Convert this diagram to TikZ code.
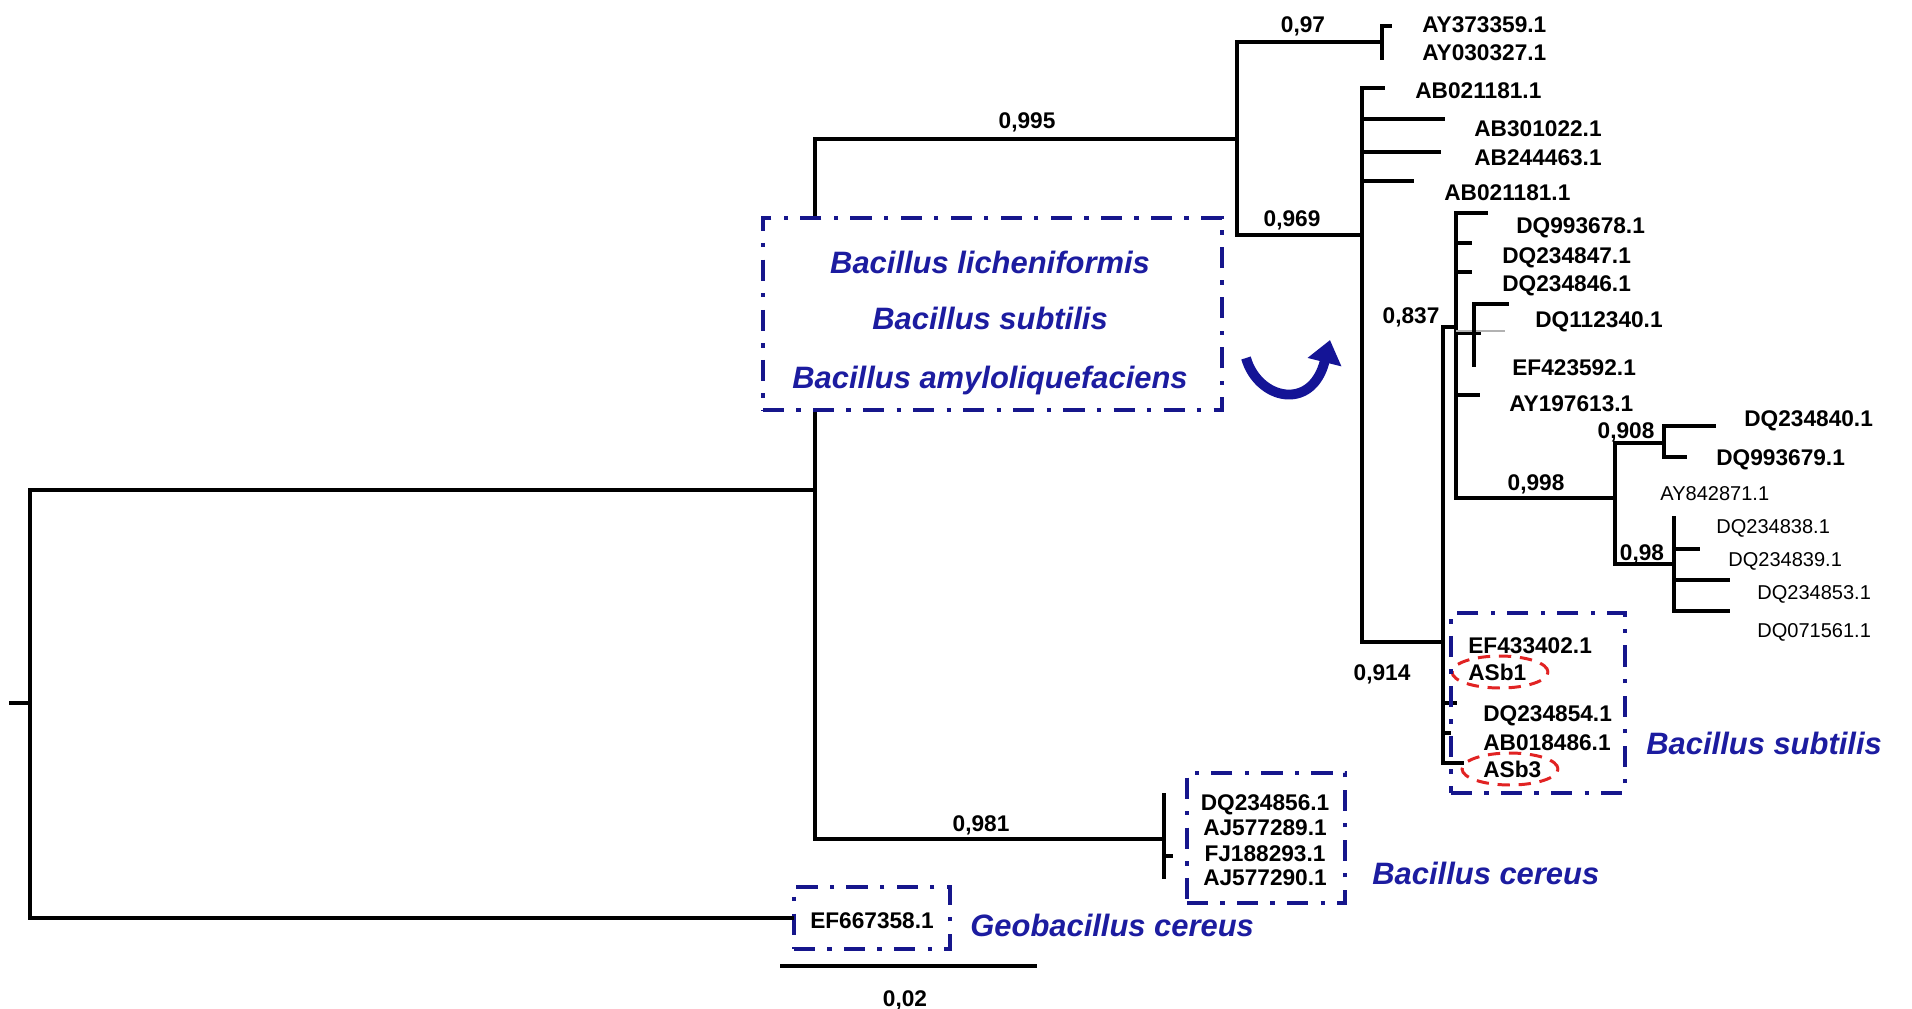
\documentclass[tikz,border=0pt]{standalone}
\usepackage{fontspec}
\setmainfont{Liberation Sans}
\usetikzlibrary{arrows.meta,fit,shapes.geometric}
\definecolor{boxblue}{RGB}{22,22,140}
\definecolor{txtblue}{RGB}{28,28,160}
\definecolor{arrblue}{RGB}{20,20,150}
\definecolor{ellred}{RGB}{225,35,35}
\tikzset{
  tree/.style={line width=2.2pt, line cap=rect},
  thintree/.style={line width=1.9pt, line cap=rect},
  lab/.style={anchor=west, inner sep=0pt, text height=9.24pt, text depth=0pt, font=\fontsize{12.9}{15}\selectfont\bfseries},
  labsm/.style={anchor=west, inner sep=0pt, text height=8.16pt, text depth=0pt, font=\fontsize{11.4}{14}\selectfont},
  labc/.style={anchor=center, inner sep=0pt, text height=9.24pt, text depth=0pt, font=\fontsize{12.9}{15}\selectfont\bfseries},
  bootval/.style={anchor=center, inner sep=0pt, text height=9.24pt, text depth=0pt, font=\fontsize{12.9}{15}\selectfont\bfseries},
  ital/.style={inner sep=0pt, text height=12.6pt, text depth=0pt, text=txtblue, font=\fontsize{17.6}{20}\selectfont\bfseries\itshape},
  bluebox/.style={draw=boxblue, line width=2.3pt, dash pattern=on 12pt off 7pt on 2.5pt off 7pt, inner sep=0pt},
  redell/.style={ellipse, draw=ellred, line width=1.7pt, dash pattern=on 7pt off 5pt, inner sep=0pt, minimum width=54.6pt, minimum height=18.2pt}
}
\begin{document}
\begin{tikzpicture}[x=0.02cm,y=-0.02cm]
\useasboundingbox (0,0) rectangle (1912,1008);
% ---------- coordinates ----------
\coordinate (rootstub) at (11,703);
\coordinate (root) at (30,703);
\coordinate (rt) at (30,490);
\coordinate (rb) at (30,918);
\coordinate (A) at (815,490);
\coordinate (At) at (815,139);
\coordinate (Ab) at (815,839);
\coordinate (B) at (1237,139);
\coordinate (Bt) at (1237,42);
\coordinate (Bb) at (1237,235);
\coordinate (AYt) at (1382,42);
\coordinate (AYtop) at (1382,26);
\coordinate (AYbot) at (1382,58);
\coordinate (C) at (1362,235);
\coordinate (Ct) at (1362,88);
\coordinate (Cb) at (1362,642);
\coordinate (D) at (1443,642);
\coordinate (Dt) at (1443,327);
\coordinate (Db) at (1443,763);
\coordinate (E) at (1456,327);
\coordinate (Et) at (1456,213);
\coordinate (Eb) at (1456,498);
\coordinate (F) at (1474,333);
\coordinate (Ft) at (1474,304);
\coordinate (Fb) at (1474,365);
\coordinate (G) at (1615,498);
\coordinate (Gt) at (1615,443);
\coordinate (Gb) at (1615,564);
\coordinate (H) at (1664,443);
\coordinate (Ht) at (1664,426);
\coordinate (Hb) at (1664,457);
\coordinate (I) at (1674,564);
\coordinate (It) at (1674,518);
\coordinate (Ib) at (1674,611);
\coordinate (Cer) at (1164,839);
\coordinate (Cert) at (1164,795);
\coordinate (Cerb) at (1164,877);
% ---------- tree ----------
\draw[tree] (rootstub) -- (root);
\draw[tree] (rt) -- (rb);
\draw[tree] (rt) -- (A);
\draw[tree] (At) -- (Ab);
\draw[tree] (At) -- (B);
\draw[tree] (Ab) -- (Cer);
\draw[tree] (Cert) -- (Cerb);
\draw[tree] (Cer) ++(0,17) -- ++(7,0);
\draw[tree] (Bt) -- (Bb);
\draw[tree] (Bt) -- (AYt);
\draw[tree] (AYtop) -- (AYbot);
\draw[tree] (AYtop) -- ++(8,0);
\draw[tree] (Bb) -- (C);
\draw[tree] (Ct) -- (Cb);
\draw[tree] (Ct) -- ++(21,0);
\draw[tree] (Ct) ++(0,31) -- ++(81,0);
\draw[tree] (Ct) ++(0,64) -- ++(77,0);
\draw[tree] (Ct) ++(0,93) -- ++(50,0);
\draw[tree] (Cb) -- (D);
\draw[thintree] (Dt) -- (Db);
\draw[thintree] (Dt) -- (E);
\draw[thintree] (Db) -- ++(19,0);
\draw[thintree] (Dt) ++(0,376) -- ++(12,0);
\draw[thintree] (Dt) ++(0,406) -- ++(6,0);
\draw[tree] (Et) -- (Eb);
\draw[tree] (Et) -- ++(30,0);
\draw[tree] (Et) ++(0,30) -- ++(14,0);
\draw[tree] (Et) ++(0,59) -- ++(14,0);
\draw[tree] (E |- F) -- ++(23,0);
\draw[gray!60, line width=0.6pt] (E |- F) ++(0,-2) -- ++(49,0);
\draw[tree] (Ft) -- (Fb);
\draw[tree] (Ft) -- ++(33,0);
\draw[tree] (Et) ++(0,182) -- ++(22,0);
\draw[tree] (Eb) -- (G);
\draw[tree] (Gt) -- (Gb);
\draw[tree] (Gt) -- (H);
\draw[tree] (Ht) -- (Hb);
\draw[tree] (Ht) -- ++(50,0);
\draw[tree] (Hb) -- ++(21,0);
\draw[tree] (Gb) -- (I);
\draw[tree] (It) -- (Ib);
\draw[tree] (It) ++(0,31) -- ++(24,0);
\draw[tree] (It) ++(0,62) -- ++(54,0);
\draw[tree] (Ib) -- ++(54,0);
% ---------- bootstrap values ----------
\node[bootval] (b995) at (1027,120) {0,995};
\node[bootval] (b97) at (1303,24) {0,97};
\node[bootval] (b969) at (1292,218) {0,969};
\node[bootval] (b837) at (1411,315) {0,837};
\node[bootval] (b998) at (1536,482) {0,998};
\node[bootval] (b908) at (1626,430) {0,908};
\node[bootval] (b98) at (1642,552) {0,98};
\node[bootval] (b914) at (1382,672) {0,914};
\node[bootval] (b981) at (981,823) {0,981};
% ---------- leaf labels ----------
\node[lab] (l1) at (1422,24) {AY373359.1};
\node[lab] (l2) at (1422,52) {AY030327.1};
\node[lab] (l3) at (1415,90) {AB021181.1};
\node[lab] (l4) at (1474,128) {AB301022.1};
\node[lab] (l5) at (1474,157) {AB244463.1};
\node[lab] (l6) at (1444,192) {AB021181.1};
\node[lab] (l7) at (1516,225) {DQ993678.1};
\node[lab] (l8) at (1502,255) {DQ234847.1};
\node[lab] (l9) at (1502,283) {DQ234846.1};
\node[lab] (l10) at (1535,319) {DQ112340.1};
\node[lab] (l11) at (1512,367) {EF423592.1};
\node[lab] (l12) at (1509,403) {AY197613.1};
\node[lab] (l13) at (1744,418) {DQ234840.1};
\node[lab] (l14) at (1716,457) {DQ993679.1};
\node[labsm] (l15) at (1660,493) {AY842871.1};
\node[labsm] (l16) at (1716,526) {DQ234838.1};
\node[labsm] (l17) at (1728,559) {DQ234839.1};
\node[labsm] (l18) at (1757,592) {DQ234853.1};
\node[labsm] (l19) at (1757,630) {DQ071561.1};
\node[lab] (l20) at (1468,645) {EF433402.1};
\node[lab] (l21) at (1468,672) {ASb1};
\node[lab] (l22) at (1483,713) {DQ234854.1};
\node[lab] (l23) at (1483,742) {AB018486.1};
\node[lab] (l24) at (1483,769) {ASb3};
\node[labc] (c1) at (1265,802) {DQ234856.1};
\node[labc] (c2) at (1265,827) {AJ577289.1};
\node[labc] (c3) at (1265,853) {FJ188293.1};
\node[labc] (c4) at (1265,877) {AJ577290.1};
% ---------- red ellipses ----------
\node[redell] (e1) at (1500,672) {};
\node[redell] (e2) at (1510,769) {};
% ---------- blue boxes ----------
\node[bluebox, fill=white, fit={(763,218) (1222,410)}] (bigbox) {};
\node[ital, anchor=center] (s1) at (990,262) {Bacillus licheniformis};
\node[ital, anchor=center] (s2) at (990,318) {Bacillus subtilis};
\node[ital, anchor=center] (s3) at (990,377) {Bacillus amyloliquefaciens};
\node[bluebox, fit={(1451,613) (1625,793)}] (subbox) {};
\node[bluebox, fit={(1187,773) (1345,903)}] (cerbox) {};
\node[bluebox, fit={(794,887) (950,949)}] (geobox) {};
\node[labc] (g1) at (872,920) {EF667358.1};
\draw[tree] (rb) -- (geobox.west |- rb);
\node[ital, anchor=west] (sub2) at (1646,743) {Bacillus subtilis};
\node[ital, anchor=west] (cer2) at (1372,873) {Bacillus cereus};
\node[ital, anchor=west] (geo2) at (970,925) {Geobacillus cereus};
% ---------- curved arrow ----------
\coordinate (arrS) at (1246,358);
\coordinate (arrE) at (1330,340);
\draw[arrblue, line width=5.6pt, -{Triangle[length=13pt,width=19pt]}]
  (arrS) .. controls (1258,400) and (1312,412) .. (arrE);
% ---------- scale bar ----------
\coordinate (sb1) at (780,966);
\coordinate (sb2) at (1037,966);
\draw[tree, line cap=butt] (sb1) -- (sb2);
\node[bootval] (sbl) at (905,998) {0,02};
\end{tikzpicture}
\end{document}
